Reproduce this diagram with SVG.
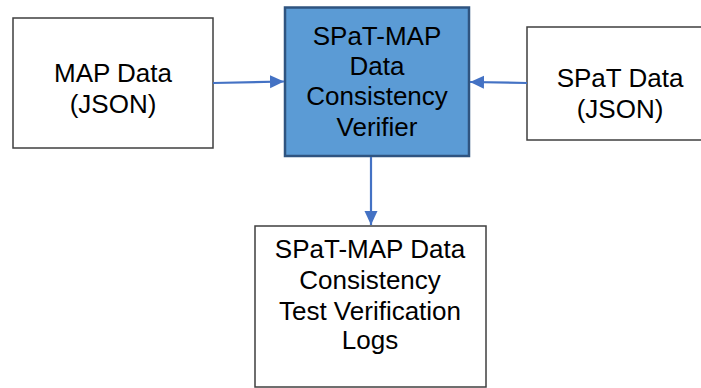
<svg xmlns="http://www.w3.org/2000/svg" width="701" height="388" viewBox="0 0 701 388">
  <style>
    .box { fill: #ffffff; stroke: #3f3f3f; stroke-width: 1.5; }
    .core { fill: #5b9bd5; stroke: #2f5480; stroke-width: 2.5; }
    .lbl { font-family: "Liberation Sans", Arial, sans-serif; font-size: 26px; fill: #000000; text-anchor: middle; }
    .link { stroke: #4472c4; stroke-width: 2.2; fill: none; }
  </style>
  <defs>
    <marker id="head" markerWidth="14" markerHeight="14" refX="14" refY="7" orient="auto" markerUnits="userSpaceOnUse">
      <path d="M0,0.5 L14,7 L0,13.5 Z" fill="#4472c4"/>
    </marker>
  </defs>

  <rect width="701" height="388" fill="#ffffff"/>

  <g id="map-data">
    <rect class="box" x="13" y="18" width="200" height="130"/>
    <text class="lbl" x="113" y="82">MAP Data</text>
    <text class="lbl" x="113" y="113">(JSON)</text>
  </g>

  <g id="verifier">
    <rect class="core" x="285" y="7.5" width="184" height="148.5"/>
    <text class="lbl" x="377" y="45">SPaT-MAP</text>
    <text class="lbl" x="377" y="75">Data</text>
    <text class="lbl" x="377" y="105">Consistency</text>
    <text class="lbl" x="377" y="136">Verifier</text>
  </g>

  <g id="spat-data">
    <rect class="box" x="527" y="27" width="186" height="113"/>
    <text class="lbl" x="620" y="87">SPaT Data</text>
    <text class="lbl" x="620" y="118">(JSON)</text>
  </g>

  <g id="logs">
    <rect class="box" x="255" y="226" width="231" height="161"/>
    <text class="lbl" x="370" y="258">SPaT-MAP Data</text>
    <text class="lbl" x="370" y="289">Consistency</text>
    <text class="lbl" x="370" y="320">Test Verification</text>
    <text class="lbl" x="370" y="349">Logs</text>
  </g>

  <g id="connectors">
    <line class="link" x1="213" y1="83" x2="284" y2="81.5" marker-end="url(#head)"/>
    <line class="link" x1="527" y1="83" x2="470" y2="82" marker-end="url(#head)"/>
    <line class="link" x1="371" y1="157" x2="371" y2="225" marker-end="url(#head)"/>
  </g>
</svg>
